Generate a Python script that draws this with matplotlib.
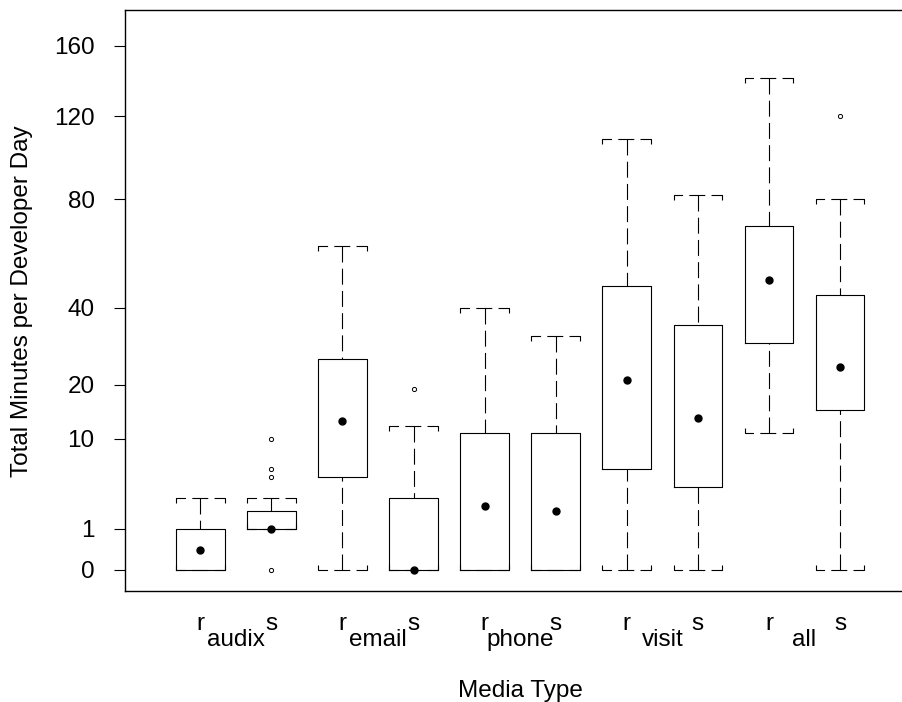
import matplotlib
matplotlib.use("Agg")
import matplotlib.pyplot as plt
import numpy as np

plt.rcParams['font.family'] = ['Liberation Sans', 'DejaVu Sans']
plt.rcParams['lines.scale_dashes'] = False

groups = ["audix", "email", "phone", "visit", "all"]
kinds = ["r", "s"]

# one entry per box: audix r, audix s, email r, email s, ...
q1 = [0, 1, 5, 0, 0, 0, 6, 4, 30, 15]
med = [0.23, 1, 13, 0, 2.4, 2, 21, 13.4, 49, 24]
q3 = [1, 2, 26, 3, 11, 11, 47, 35, 69, 44]
whislo = [0, 1, 0, 0, 0, 0, 0, 0, 11, 0]
whishi = [3, 3, 61, 12, 40, 32, 108, 82, 141, 80]
fliers = [[], [0, 5, 6, 10], [], [19], [], [], [], [], [], [120]]

yticks = [0, 1, 10, 20, 40, 80, 120, 160]


def fwd(v):
    v = np.asarray(v, dtype=float)
    return np.sign(v) * np.sqrt(np.abs(v))


def inv(v):
    v = np.asarray(v, dtype=float)
    return np.sign(v) * v ** 2


fig = plt.figure(figsize=(9.02, 7.02), dpi=100)
ax = fig.add_axes([124.7 / 902, 111 / 702, 780.3 / 902, 581 / 702])
ax.set_yscale('function', functions=(fwd, inv))

pos = np.arange(1, len(q1) + 1)
w = 0.685

stats = []
for i in range(len(q1)):
    stats.append(dict(q1=q1[i], med=med[i], q3=q3[i], whislo=whislo[i],
                      whishi=whishi[i], fliers=fliers[i]))

ax.bxp(stats, positions=pos, widths=w, showcaps=False,
       boxprops=dict(color='black', linewidth=0.8),
       whiskerprops=dict(linestyle='none'),
       medianprops=dict(visible=False),
       flierprops=dict(marker='o', markersize=3, markerfacecolor='none',
                       markeredgecolor='black', markeredgewidth=0.7))

dash = (0, (11.5, 4.5))
d = 0.12  # end tick length of the staples, in sqrt units
for i, p in enumerate(pos):
    lo, hi = p - w / 2, p + w / 2
    # whiskers drawn from the staple towards the box
    ax.plot([p, p], [whishi[i], q3[i]], color='black', lw=0.8, ls=dash)
    ax.plot([p, p], [whislo[i], q1[i]], color='black', lw=0.8, ls=dash)
    vt = whishi[i]
    ax.plot([hi, hi, lo, lo], [inv(fwd(vt) - d), vt, vt, inv(fwd(vt) - d)],
            color='black', lw=0.8, ls=dash)
    vb = whislo[i]
    ax.plot([hi, hi, lo, lo], [inv(fwd(vb) + d), vb, vb, inv(fwd(vb) + d)],
            color='black', lw=0.8, ls=dash)
    ax.plot(p, med[i], 'o', color='black', markersize=5)

ax.set_xlim(-0.0636, 10.914)
ax.set_ylim(inv(-0.507), inv(13.517))
ax.set_yticks(yticks)
ax.set_yticklabels([str(t) for t in yticks])
ax.set_xticks([])
ax.tick_params(axis='y', direction='out', length=7.9, width=0.8, pad=13.7,
               labelsize=17.5)
ax.spines['right'].set_visible(False)
for s in ['left', 'top', 'bottom']:
    ax.spines[s].set_linewidth(1.0)

tr = ax.get_xaxis_transform()
for g, name in enumerate(groups):
    for k, kind in enumerate(kinds):
        ax.text(pos[2 * g + k], -0.0671, kind, transform=tr, ha='center',
                va='baseline', fontsize=17.5)
    ax.text((pos[2 * g] + pos[2 * g + 1]) / 2, -0.0947, name, transform=tr,
            ha='center', va='baseline', fontsize=17.5)

fig.text(520 / 902, 1 - 697 / 702, "Media Type", ha='center', va='baseline',
         fontsize=17.5)
fig.text(22 / 902, 1 - 301 / 702, "Total Minutes per Developer Day",
         rotation=90, ha='center', va='center', fontsize=17.5)

fig.savefig("out.png", dpi=100)
